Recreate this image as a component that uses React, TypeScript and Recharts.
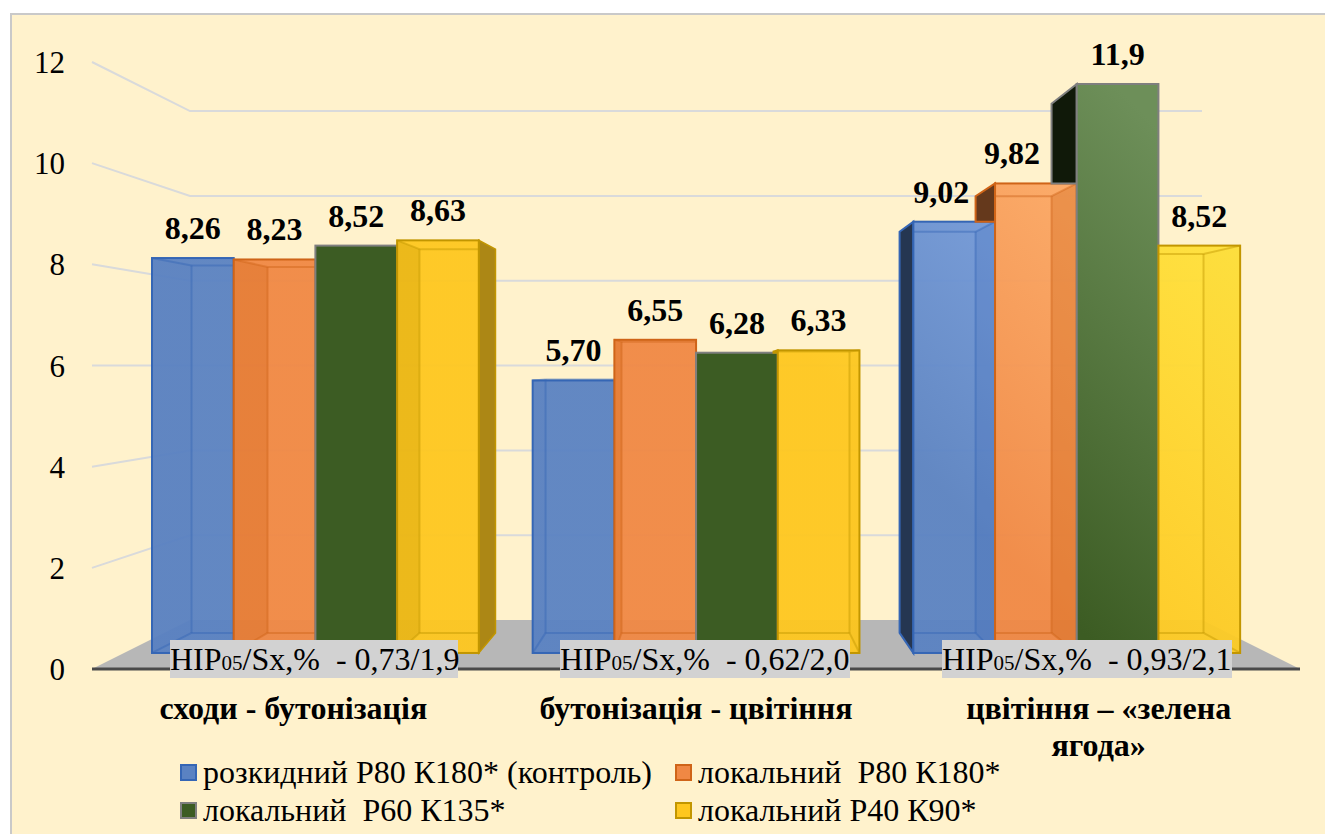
import { ComposedChart, Bar, Line, XAxis, YAxis, CartesianGrid, LabelList } from 'recharts';

const categories = ["сходи - бутонізація", "бутонізація - цвітіння", "цвітіння – «зелена ягода»"];
const seriesNames = ["розкидний Р80 К180* (контроль)", "локальний  Р80 К180*", "локальний  Р60 К135*", "локальний Р40 К90*"];
const broadcast = [8.26, 5.7, 9.02];
const localP80 = [8.23, 6.55, 9.82];
const localP60 = [8.52, 6.28, 11.9];
const localP40 = [8.63, 6.33, 8.52];
const labelsP80Broad = ["8,26", "5,70", "9,02"];
const labelsP80 = ["8,23", "6,55", "9,82"];
const labelsP60 = ["8,52", "6,28", "11,9"];
const labelsP40 = ["8,63", "6,33", "8,52"];
const yTicks = [0, 2, 4, 6, 8, 10, 12];
const hipValues = ["0,73/1,9", "0,62/2,0", "0,93/2,1"];

const values = [broadcast, localP80, localP60, localP40];
const valueLabels = [labelsP80Broad, labelsP80, labelsP60, labelsP40];
const data = categories.map((name, i) => ({
    name,
    s0: broadcast[i],
    s1: localP80[i],
    s2: localP60[i],
    s3: localP40[i],
}));

const FONT = '"Liberation Serif", serif';
const AXIS_LEFT = 92;
const AXIS_RIGHT = 1300;
const PLOT_TOP = 62;
const PLOT_BOTTOM = 669;
const X_AXIS_HEIGHT = 60;

// look of each series: base and light end of the gradient, edge, wall and side shading
const styles = [
    { base: "#5a82c2", light: "#84aaea", edge: "#3566b5", wallLeft: 0.04, wallRight: 0.22, side: 0.58, lines: true },
    { base: "#f08844", light: "#ffb26f", edge: "#cf6418", wallLeft: 0.3, wallRight: 0.35, side: 0.58, lines: true },
    { base: "#3c5c23", light: "#6d8f59", edge: "#7f7f7f", wallLeft: 0, wallRight: 0, side: 0.72, lines: false },
    { base: "#fec71f", light: "#ffe33c", edge: "#c29600", wallLeft: 0.3, wallRight: 0.04, side: 0.32, lines: true },
];
const hipBoxes = [
    { left: 170, width: 288 },
    { left: 560, width: 290 },
    { left: 942, width: 290 },
];
const legendSlots = [
    { left: 180, top: 764 },
    { left: 675, top: 764 },
    { left: 180, top: 802 },
    { left: 675, top: 802 },
];
// the third group's labels sit off centre in the original
const thirdGroupLabelShift = [-13, -24, 0, 0];

const VP_X = 717;
const VP_Y = 366;
const backX = (x: number) => x + (VP_X - x) * 0.07;
const backY = (y: number) => VP_Y + (y - VP_Y) * 0.93;

function Box3D(props: any) {
    const { x, y, width, height, index, s } = props;
    const st = styles[s];
    const right = x + width;
    const bottom = y + height;
    const bl = backX(x);
    const br = backX(right);
    const bt = backY(y);
    const bb = backY(bottom);
    const prevTop = s > 0 ? bottom - (values[s - 1][index] * height) / values[s][index] : bottom;
    const innerLeft = Math.max(bl, x);
    const innerRight = Math.min(br, right);
    const front = `url(#front${s})`;
    const fillOpacity = st.lines ? 0.95 : 1;
    return (
        <g>
            {bl < x && s === 0 && (
                <g>
                    <polygon points={`${x},${y} ${x},${bottom} ${bl},${bb} ${bl},${bt}`} fill={st.base} />
                    <polygon points={`${x},${y} ${x},${bottom} ${bl},${bb} ${bl},${bt}`} fill="#000" fillOpacity={st.side} stroke={st.edge} strokeWidth={2} />
                </g>
            )}
            {bl < x && s > 0 && y < prevTop && (
                <g>
                    <polygon points={`${x},${y} ${x},${prevTop} ${bl},${prevTop} ${bl},${bt}`} fill={st.base} />
                    <polygon points={`${x},${y} ${x},${prevTop} ${bl},${prevTop} ${bl},${bt}`} fill="#000" fillOpacity={st.side} stroke={st.edge} strokeWidth={2} />
                </g>
            )}
            {br > right && s === 3 && (
                <g>
                    <polygon points={`${right},${y} ${right},${bottom} ${br},${bb} ${br},${bt}`} fill={st.base} />
                    <polygon points={`${right},${y} ${right},${bottom} ${br},${bb} ${br},${bt}`} fill="#000" fillOpacity={st.side} stroke={st.edge} strokeWidth={1.5} />
                </g>
            )}
            <rect x={x} y={y} width={width} height={height} fill={front} fillOpacity={fillOpacity} />
            {bl > x && st.wallLeft > 0 && (
                <polygon points={`${x},${y} ${bl},${bt} ${bl},${bb} ${x},${bottom}`} fill={st.edge} fillOpacity={st.wallLeft} />
            )}
            {br < right && st.wallRight > 0 && (
                <polygon points={`${right},${y} ${br},${bt} ${br},${bb} ${right},${bottom}`} fill={st.edge} fillOpacity={st.wallRight} />
            )}
            {st.lines && (
                <g stroke={st.edge} strokeWidth={2} strokeOpacity={0.45} fill="none">
                    <line x1={innerLeft} y1={bt} x2={innerRight} y2={bt} />
                    <line x1={innerLeft} y1={bb} x2={innerRight} y2={bb} />
                    {bl > x && <line x1={bl} y1={bt} x2={bl} y2={bb} />}
                    {br < right && <line x1={br} y1={bt} x2={br} y2={bb} />}
                    {bl > x && <line x1={x} y1={y} x2={bl} y2={bt} />}
                    {bl > x && <line x1={x} y1={bottom} x2={bl} y2={bb} />}
                    {br < right && <line x1={right} y1={y} x2={br} y2={bt} />}
                    {br < right && <line x1={right} y1={bottom} x2={br} y2={bb} />}
                </g>
            )}
            <rect x={x} y={y} width={width} height={height} fill="none" stroke={st.edge} strokeWidth={2} />
        </g>
    );
}

// perspective gridline, the one at zero also brings the grey floor
function GridLine(props: any) {
    const { x1, x2, y1 } = props;
    const by = 366 + (y1 - 366) * 0.8386;
    const lx = x1 + 98;
    const rx = x2 - 98;
    if (Math.abs(y1 - PLOT_BOTTOM) < 1) {
        return (
            <g>
                <polygon points={`${x1},${y1} ${lx},${by} ${rx},${by} ${x2},${y1}`} fill="#b7b7b7" />
                <line x1={x1} y1={y1} x2={x2} y2={y1} stroke="#4a4a4a" strokeWidth={3} />
            </g>
        );
    }
    return <polyline points={`${x1},${y1} ${lx},${by} ${rx},${by}`} fill="none" stroke="#d9dadb" strokeWidth={2} />;
}

function YTick(props: any) {
    const { y, payload } = props;
    return (
        <text x={65} y={y + 11} textAnchor="end" fontFamily={FONT} fontSize={31} fill="#000">
            {payload.value}
        </text>
    );
}

function XTick(props: any) {
    const { x, payload, index } = props;
    const lines = index === 2 ? ["цвітіння – «зелена", "ягода»"] : [payload.value];
    return (
        <text textAnchor="middle" fontFamily={FONT} fontSize={32} fontWeight="bold" fill="#000">
            {lines.map((line, i) => (
                <tspan key={i} x={x} y={719 + i * 37}>{line}</tspan>
            ))}
        </text>
    );
}

function ValueLabel(props: any) {
    const { x, y, width, index, s } = props;
    const shift = index === 2 ? thirdGroupLabelShift[s] : 0;
    return (
        <text x={x + width / 2 + shift} y={y - 19} textAnchor="middle" fontFamily={FONT} fontSize={32} fontWeight="bold" fill="#000">
            {valueLabels[s][index]}
        </text>
    );
}

export default function App() {
    return (
        <div style={{ position: "fixed", left: 0, top: 0, width: 1325, height: 834, overflow: "hidden", background: "#fff" }}>
            <div style={{ position: "absolute", left: 10, top: 13, width: 1325, height: 834, background: "#fff2cc", border: "2px solid #c9c9c9", boxSizing: "border-box" }} />
            <div style={{ position: "absolute", left: 0, top: 0 }}>
                <ComposedChart
                    width={1325}
                    height={834}
                    data={data}
                    barGap={0}
                    barSize={81.7}
                    margin={{ top: PLOT_TOP, right: 1325 - AXIS_RIGHT, bottom: 834 - PLOT_BOTTOM - X_AXIS_HEIGHT, left: 0 }}
                >
                    <defs>
                        {styles.map((st, i) => (
                            <linearGradient key={i} id={`front${i}`} gradientUnits="userSpaceOnUse" x1={700} y1={250} x2={990} y2={-40}>
                                <stop offset="0" stopColor={st.base} />
                                <stop offset="1" stopColor={st.light} />
                            </linearGradient>
                        ))}
                    </defs>
                    <CartesianGrid vertical={false} horizontal={(p: any) => <GridLine key={p.index} {...p} />} syncWithTicks />
                    <XAxis dataKey="name" height={X_AXIS_HEIGHT} axisLine={false} tickLine={false} interval={0} tick={XTick} />
                    <XAxis xAxisId="bars" dataKey="name" hide height={0} padding={{ left: 33, right: 33 }} />
                    <YAxis type="number" width={AXIS_LEFT} domain={[0, 12]} ticks={yTicks} axisLine={false} tickLine={false} tick={YTick} interval={0} />
                    <YAxis yAxisId="bars" type="number" hide domain={[-0.335, 12.36]} allowDataOverflow />
                    {/* keeps the visible axes bound to a series */}
                    <Line dataKey="s0" stroke="none" dot={false} activeDot={false} isAnimationActive={false} legendType="none" />
                    {seriesNames.map((name, s) => (
                        <Bar
                            key={s}
                            name={name}
                            dataKey={`s${s}`}
                            xAxisId="bars"
                            yAxisId="bars"
                            isAnimationActive={false}
                            shape={(p: any) => <Box3D {...p} s={s} />}
                        >
                            <LabelList content={(p: any) => <ValueLabel {...p} s={s} />} />
                        </Bar>
                    ))}
                </ComposedChart>
            </div>
            {hipValues.map((v, i) => (
                <div
                    key={i}
                    style={{
                        position: "absolute",
                        left: hipBoxes[i].left,
                        top: 640,
                        width: hipBoxes[i].width,
                        height: 38,
                        background: "#d2d2d2",
                        fontFamily: FONT,
                        fontSize: 32,
                        lineHeight: "38px",
                        whiteSpace: "pre",
                        color: "#000",
                    }}
                >
                    HIP<span style={{ fontSize: 21 }}>05</span>/Sx,%  - {v}
                </div>
            ))}
            {seriesNames.map((name, i) => (
                <div key={i} style={{ position: "absolute", left: legendSlots[i].left, top: legendSlots[i].top, height: 18 }}>
                    <div style={{ width: 17, height: 17, boxSizing: "border-box", background: styles[i].base, border: `2px solid ${styles[i].edge}` }} />
                    <div style={{ position: "absolute", left: 23, top: -8, fontFamily: FONT, fontSize: 32, lineHeight: "32px", whiteSpace: "pre", color: "#000" }}>
                        {name}
                    </div>
                </div>
            ))}
        </div>
    );
}
